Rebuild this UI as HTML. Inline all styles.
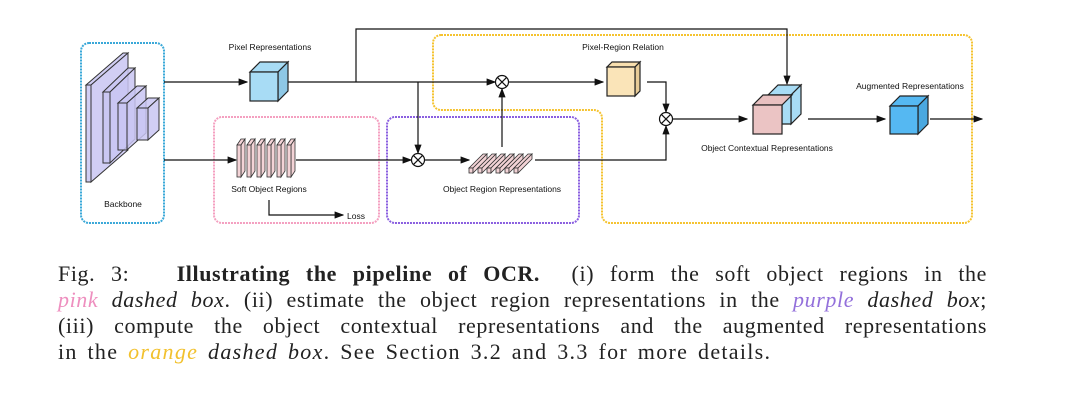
<!DOCTYPE html>
<html><head><meta charset="utf-8">
<style>
body{margin:0;background:#fff;width:1068px;height:414px;overflow:hidden;position:relative}
svg{position:absolute;left:0;top:0}
svg text{font-family:"Liberation Sans",sans-serif;font-size:8.5px;fill:#111}
.cap{position:absolute;left:58px;width:929px;font-family:"Liberation Serif",serif;font-size:22px;letter-spacing:1.3px;word-spacing:3px;color:#222;white-space:nowrap;line-height:26px}
.j{text-align:justify;text-align-last:justify;white-space:normal;letter-spacing:0.6px;word-spacing:0}
</style></head><body>
<svg width="1068" height="414" viewBox="0 0 1068 414">
<defs><marker id="a" markerWidth="8" markerHeight="6" refX="7" refY="3" orient="auto"><path d="M0,0L8,3L0,6z" fill="#111"/></marker></defs>
<g fill="none" stroke-width="2" stroke-dasharray="2,1">
<rect x="81" y="43" width="83" height="180" rx="8" stroke="#3aa8d8"/>
<rect x="214" y="117" width="165" height="106" rx="8" stroke="#f4a0c0"/>
<rect x="387" y="117" width="192" height="106" rx="8" stroke="#8a5fe0"/>
<path d="M441,35H964a8,8 0 0 1 8,8V215a8,8 0 0 1 -8,8H610a8,8 0 0 1 -8,-8V118a8,8 0 0 0 -8,-8H441a8,8 0 0 1 -8,-8V43a8,8 0 0 1 8,-8z" stroke="#f5c330"/>
</g>
<g stroke="#333" stroke-width="1" fill="#c9c6f2" fill-opacity="0.85">
<path d="M86,85L123,53H128L91,85z"/><path d="M91,85L128,53V150L91,182z"/><rect x="86" y="85" width="5" height="97"/>
<path d="M103,92L128,68H135L110,92z"/><path d="M110,92L135,68V139L110,163z"/><rect x="103" y="92" width="7" height="71"/>
<path d="M118,103L137,86H146L127,103z"/><path d="M127,103L146,86V133L127,150z"/><rect x="118" y="103" width="9" height="47"/>
<path d="M137,108L148,98H159L148,108z"/><path d="M148,108L159,98V130L148,140z"/><rect x="137" y="108" width="11" height="32"/>
</g>
<g stroke="#111" stroke-width="1.2" fill="none">
<line x1="164" y1="82" x2="247" y2="82" marker-end="url(#a)"/>
<line x1="164" y1="160" x2="236" y2="160" marker-end="url(#a)"/>
<polyline points="287,82 495,82" marker-end="url(#a)"/>
<polyline points="356,82 356,29 787,29 787,84" marker-end="url(#a)"/>
<line x1="418" y1="82" x2="418" y2="153" marker-end="url(#a)"/>
<line x1="296" y1="160" x2="411" y2="160" marker-end="url(#a)"/>
<line x1="425" y1="160" x2="469" y2="160" marker-end="url(#a)"/>
<line x1="502" y1="147" x2="502" y2="89" marker-end="url(#a)"/>
<polyline points="535,160 666,160 666,126" marker-end="url(#a)"/>
<line x1="509" y1="82" x2="603" y2="82" marker-end="url(#a)"/>
<polyline points="647,82 666,82 666,112" marker-end="url(#a)"/>
<line x1="673" y1="119" x2="747" y2="119" marker-end="url(#a)"/>
<line x1="808" y1="119" x2="885" y2="119" marker-end="url(#a)"/>
<line x1="930" y1="119" x2="982" y2="119" marker-end="url(#a)"/>
<polyline points="269,200 269,215 343,215" marker-end="url(#a)"/>
</g>
<g stroke="#111" stroke-width="1.2" fill="#fff">
<circle cx="502" cy="82" r="6.5"/><circle cx="418" cy="160" r="6.5"/><circle cx="666" cy="119" r="6.5"/>
<path d="M497.4,77.4l9.2,9.2M506.6,77.4l-9.2,9.2M413.4,155.4l9.2,9.2M422.6,155.4l-9.2,9.2M661.4,114.4l9.2,9.2M670.6,114.4l-9.2,9.2"/>
</g>
<g stroke="#222" stroke-width="1.2">
<path d="M250,72L260,62H288L278,72z" fill="#a8dcf5"/><path d="M278,72L288,62V91L278,101z" fill="#8ec8e6"/><rect x="250" y="72" width="28" height="29" fill="#a8dcf5"/>
<path d="M607,67L612,62H640L635,67z" fill="#f8dfae"/><path d="M635,67L640,62V91L635,96z" fill="#e8cc98"/><rect x="607" y="67" width="28" height="29" fill="#fae4b8"/>
<path d="M768,95L778,85H801L791,95z" fill="#a8dcf5"/><path d="M791,95L801,85V114L791,124z" fill="#a8dcf5"/><path d="M768,95H791V124H782V105H768z" fill="#a8dcf5"/>
<path d="M753,105L763,95H792L782,105z" fill="#e8c0c0"/><rect x="753" y="105" width="29" height="29" fill="#ebc4c4"/>
<path d="M890,106L900,96H928L918,106z" fill="#55b8f2"/><path d="M918,106L928,96V124L918,134z" fill="#4aa8e0"/><rect x="890" y="106" width="28" height="28" fill="#55b8f2"/>
</g>
<g stroke="#333" stroke-width="0.8" fill="#f3d3d6">
<g id="s"><path d="M237,145L241,139H245L241,145z"/><path d="M241,145L245,139V171L241,177z"/><rect x="237" y="145" width="4" height="32"/></g>
<use href="#s" x="10"/><use href="#s" x="20"/><use href="#s" x="30"/><use href="#s" x="40"/><use href="#s" x="50"/>
<g id="r"><path d="M469,168L483,154H487L473,168z"/><rect x="469" y="168" width="4" height="5"/><path d="M473,168L487,154V159L473,173z"/></g>
<use href="#r" x="9"/><use href="#r" x="18"/><use href="#r" x="27"/><use href="#r" x="36"/><use href="#r" x="45"/>
</g>
<text x="270" y="50" text-anchor="middle">Pixel Representations</text>
<text x="623" y="50" text-anchor="middle">Pixel-Region Relation</text>
<text x="910" y="89" text-anchor="middle">Augmented Representations</text>
<text x="767" y="151" text-anchor="middle">Object Contextual Representations</text>
<text x="123" y="207" text-anchor="middle">Backbone</text>
<text x="269" y="192" text-anchor="middle">Soft Object Regions</text>
<text x="502" y="192" text-anchor="middle">Object Region Representations</text>
<text x="347" y="219">Loss</text>
</svg>
<div class="cap j" style="top:261px">Fig. 3: &nbsp; <b>Illustrating the pipeline of OCR.</b> &nbsp;(i) form the soft object regions in the</div>
<div class="cap j" style="top:287px"><i style="color:#ee8fbf">pink</i> <i>dashed box</i>. (ii) estimate the object region representations in the <i style="color:#9370db">purple</i> <i>dashed box</i>;</div>
<div class="cap j" style="top:313px">(iii) compute the object contextual representations and the augmented representations</div>
<div class="cap" style="top:339px">in the <i style="color:#f2c12e">orange</i> <i>dashed box</i>. See Section 3.2 and 3.3 for more details.</div>
</body></html>
